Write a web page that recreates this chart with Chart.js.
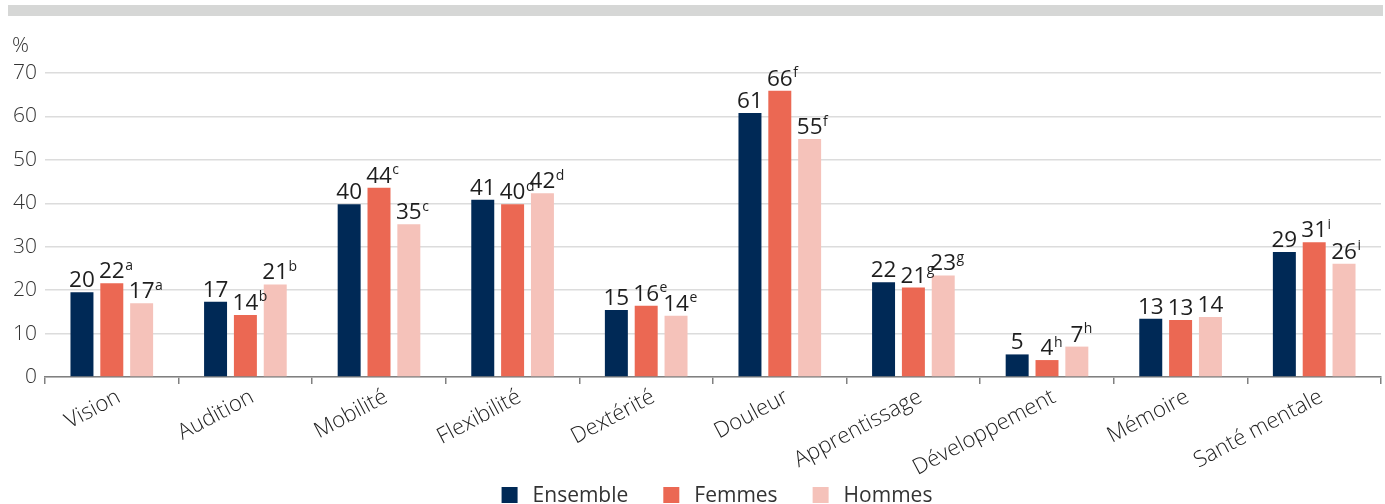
<!DOCTYPE html>
<html><head><meta charset="utf-8">
<script src="https://cdn.jsdelivr.net/npm/chart.js@4"></script>
<style>
html,body{margin:0;padding:0;background:#fff;overflow:hidden;width:1385px;height:504px;}
#wrap{position:relative;width:1385px;height:504px;}
</style></head><body>
<div id="wrap"><canvas id="c"></canvas></div>
<script>
const categories = ['Vision','Audition','Mobilité','Flexibilité','Dextérité','Douleur','Apprentissage','Développement','Mémoire','Santé mentale'];
const seriesNames = ['Ensemble','Femmes','Hommes'];
const ensemble = [19.5, 17.3, 39.8, 40.8, 15.4, 60.8, 21.8, 5.2, 13.4, 28.8];
const femmes   = [21.6, 14.3, 43.6, 39.8, 16.4, 65.9, 20.6, 3.9, 13.1, 31.0];
const hommes   = [17.0, 21.3, 35.2, 42.3, 14.1, 54.8, 23.4, 7.0, 13.8, 26.1];
const ensembleNotes = ['','','','','','','','','',''];
const femmesNotes   = ['a','b','c','d','e','f','g','h','','i'];
const hommesNotes   = ['a','b','c','d','e','f','g','h','','i'];
const yTicks = [0,10,20,30,40,50,60,70];
const yUnit = '%';

const colors = ['#002956','#EB6853','#F5C2BA'];
const notes = [ensembleNotes, femmesNotes, hommesNotes];
const FONT = '"Open Sans", "Noto Sans", sans-serif';

const decor = {
  id: 'decor',
  beforeDraw(chart) {
    const ctx = chart.ctx;
    ctx.save();
    ctx.fillStyle = '#d6d7d6';
    ctx.fillRect(8, 5, 1375, 11);
    ctx.fillStyle = '#333';
    ctx.font = '300 21px ' + FONT;
    ctx.textAlign = 'left';
    ctx.textBaseline = 'alphabetic';
    ctx.fillText(yUnit, 12, 52);
    ctx.restore();
  },
  afterDatasetsDraw(chart) {
    const ctx = chart.ctx;
    ctx.save();
    ctx.fillStyle = '#1e1e1e';
    ctx.textBaseline = 'alphabetic';
    chart.data.datasets.forEach((ds, i) => {
      const meta = chart.getDatasetMeta(i);
      meta.data.forEach((bar, j) => {
        const txt = String(Math.round(ds.data[j]));
        ctx.font = '400 22.5px ' + FONT;
        ctx.textAlign = 'center';
        const base = bar.y - 5;
        ctx.fillText(txt, bar.x, base);
        const note = notes[i][j];
        if (note) {
          const w = ctx.measureText(txt).width;
          ctx.font = '400 14px ' + FONT;
          ctx.textAlign = 'left';
          ctx.fillText(note, bar.x + w / 2 + 0.5, base - 8.5);
        }
      });
    });
    ctx.restore();
  },
  afterDraw(chart) {
    const ctx = chart.ctx;
    ctx.save();
    ctx.font = '400 21px ' + FONT;
    ctx.textBaseline = 'middle';
    ctx.textAlign = 'left';
    const box = 16, gapText = 15, gapItem = 35;
    const items = chart.data.datasets.map(d => ({label: d.label, color: d.backgroundColor, w: ctx.measureText(d.label).width}));
    let total = 0;
    items.forEach((it, k) => { total += box + gapText + it.w + (k < items.length - 1 ? gapItem : 0); });
    let x = 717 - total / 2;
    items.forEach(it => {
      ctx.fillStyle = it.color;
      ctx.fillRect(x, 487, box, box);
      ctx.fillStyle = '#333';
      ctx.fillText(it.label, x + box + gapText, 496);
      x += box + gapText + it.w + gapItem;
    });
    ctx.restore();
  }
};

new Chart(document.getElementById('c'), {
  type: 'bar',
  data: {
    labels: categories,
    datasets: [
      {label: seriesNames[0], data: ensemble, backgroundColor: colors[0]},
      {label: seriesNames[1], data: femmes, backgroundColor: colors[1]},
      {label: seriesNames[2], data: hommes, backgroundColor: colors[2]}
    ]
  },
  options: {
    responsive: true,
    maintainAspectRatio: false,
    animation: false,
    events: [],
    layout: {padding: {top: 73, left: 0, right: 4, bottom: 0}},
    datasets: {bar: {categoryPercentage: 0.67, barPercentage: 0.77, borderWidth: 0}},
    plugins: {legend: {display: false}, tooltip: {enabled: false}},
    scales: {
      x: {
        afterFit(s) { s.height = 127; },
        grid: {drawOnChartArea: false, drawTicks: true, tickLength: 7, color: '#808080', lineWidth: 1.5, offset: true},
        border: {display: true, color: '#808080', width: 1.5},
        ticks: {maxRotation: 28, minRotation: 28, padding: 0, labelOffset: 7, color: '#222', font: {family: FONT, size: 22, weight: '300'}}
      },
      y: {
        min: 0, max: 70,
        afterFit(s) { s.width = 45; },
        afterBuildTicks(s) { s.ticks = yTicks.map(v => ({value: v})); },
        grid: {drawTicks: false, color: '#dcdcdc', lineWidth: 1.5},
        border: {display: false},
        ticks: {padding: 8, color: '#333', font: {family: FONT, size: 21, weight: '300'}}
      }
    }
  },
  plugins: [decor]
});
</script>
</body></html>
